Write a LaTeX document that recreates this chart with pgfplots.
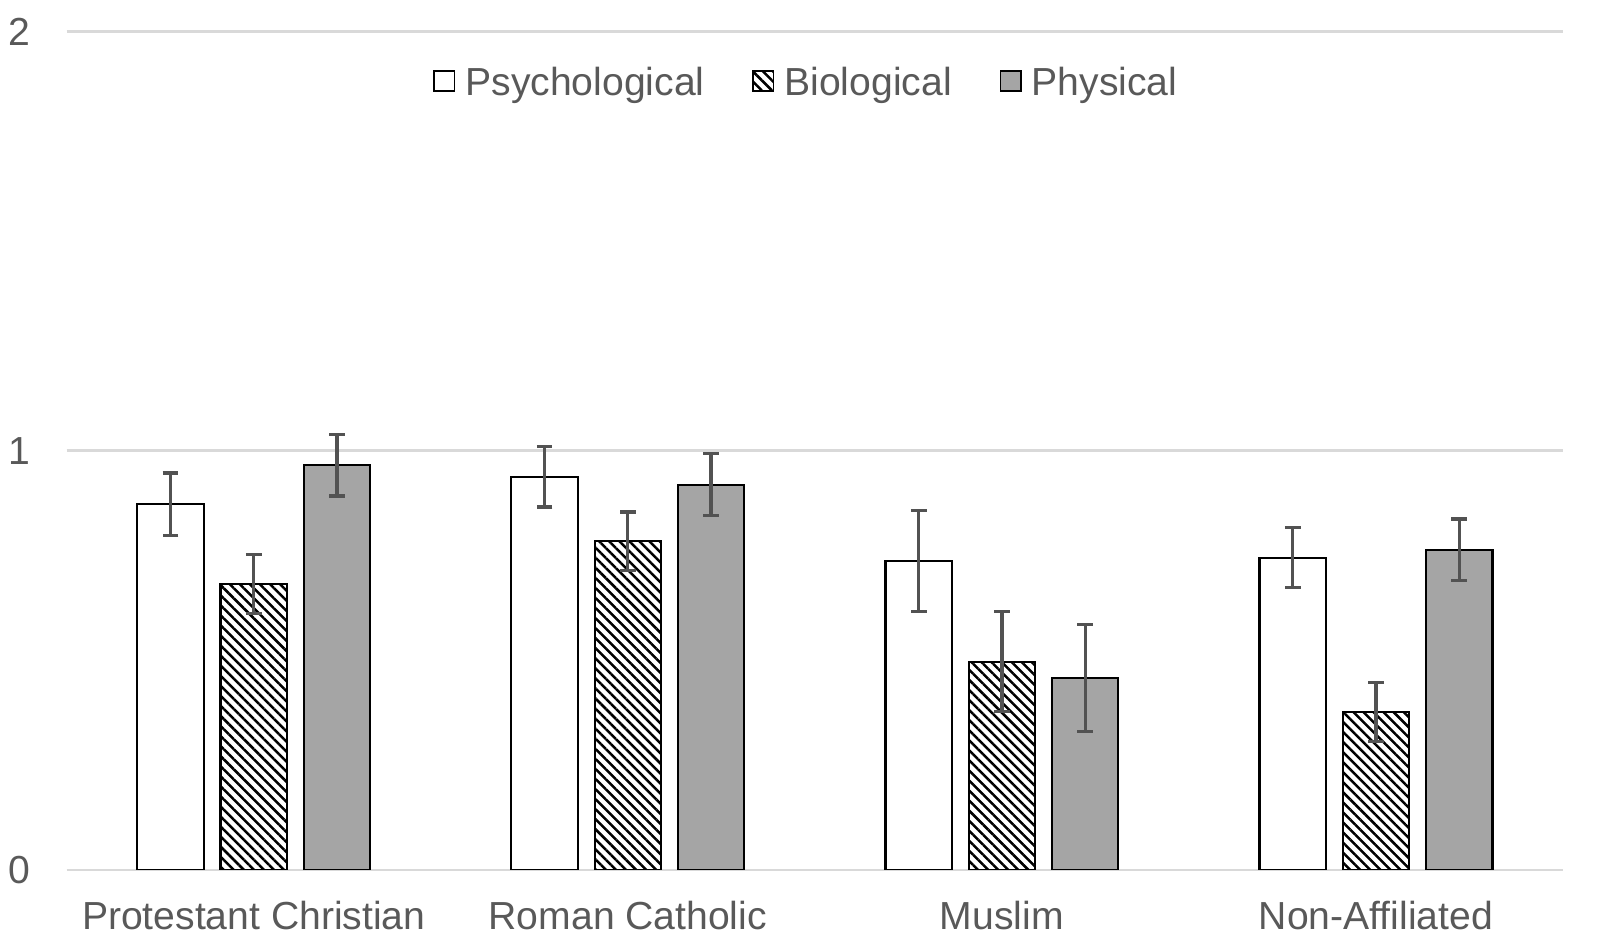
\documentclass[border=0pt]{standalone}
\usepackage{fontspec}
\setmainfont{Liberation Sans}
\usepackage{pgfplots}
\pgfplotsset{compat=1.18}
\usetikzlibrary{patterns.meta}
\definecolor{textgray}{HTML}{595959}
\definecolor{gridgray}{HTML}{D9D9D9}
\definecolor{physgray}{HTML}{A5A5A5}
\definecolor{errgray}{HTML}{525252}
\pgfplotsset{
  ebar/.style={error bars/.cd, y dir=both, y explicit,
    error bar style={line width=0.9pt, errgray},
    error mark options={rotate=90, line width=0.9pt, errgray, mark size=2.2pt}},
}
\begin{document}
\begin{tikzpicture}
\begin{axis}[
  name=ax,
  scale only axis,
  width=420.8pt, height=235.8pt,
  xmin=-0.5, xmax=3.5, ymin=0, ymax=2,
  ybar=4.7pt, bar width=18.7pt,
  axis line style={draw=none},
  tick style={draw=none},
  ymajorgrids,
  grid style={gridgray, line width=0.75pt},
  ytick={0,1,2},
  xtick={0,1,2,3},
  xticklabels={Protestant Christian, Roman Catholic, Muslim, Non-Affiliated},
  /pgf/number format/assume math mode=true,
  tick label style={font=\fontsize{11}{13}\selectfont, text=textgray},
  yticklabel style={anchor=east, inner sep=0pt, xshift=-10pt},
  xticklabel style={anchor=north, inner sep=0pt, yshift=-4.3pt},
  legend columns=-1,
  legend style={at={(0.4936,0.937)}, anchor=center, draw=none, fill=none,
    font=\fontsize{11}{13}\selectfont, text=textgray, inner sep=0pt,
    nodes={inner sep=0pt}, column sep=2.8pt,
    /tikz/every even column/.append style={column sep=13.4pt}},
  legend image code/.code={\draw[#1,line width=0.55pt] (0pt,-1.9pt) rectangle (5.7pt,3.8pt);},
]
\addplot[draw=black, line width=0.6pt, fill=white, ebar]
  table[x=x, y=y, y error=e] {
x y e
0 0.872 0.075
1 0.938 0.072
2 0.737 0.121
3 0.745 0.072
};
\addlegendentry{Psychological}
\addplot[draw=black, line width=0.6pt, fill=white,
  postaction={pattern={Lines[angle=-45,distance=2.0pt,line width=0.7pt]}}, ebar]
  table[x=x, y=y, y error=e] {
x y e
0 0.682 0.070
1 0.784 0.070
2 0.497 0.119
3 0.377 0.070
};
\addlegendentry{Biological}
\addplot[draw=black, line width=0.6pt, fill=physgray, ebar]
  table[x=x, y=y, y error=e] {
x y e
0 0.965 0.073
1 0.919 0.074
2 0.458 0.127
3 0.764 0.073
};
\addlegendentry{Physical}
\end{axis}
\pgfresetboundingbox
\path[use as bounding box] ([xshift=-18.76pt,yshift=-21.9pt]ax.south west) rectangle ([xshift=10.4pt,yshift=8.86pt]ax.north east);
\end{tikzpicture}
\end{document}
